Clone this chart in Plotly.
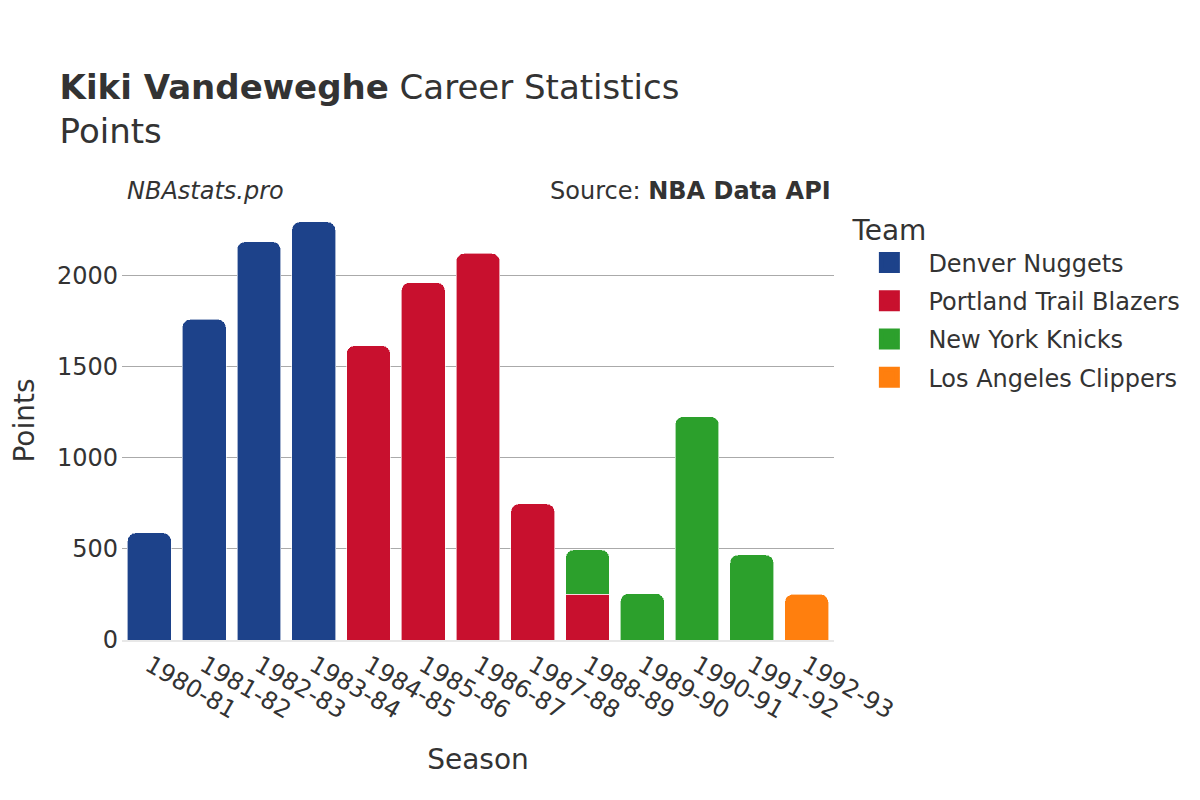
import plotly.graph_objects as go

seasons = ["1980-81", "1981-82", "1982-83", "1983-84", "1984-85", "1985-86", "1986-87",
           "1987-88", "1988-89", "1989-90", "1990-91", "1991-92", "1992-93"]

teams = ["Denver Nuggets", "Portland Trail Blazers", "New York Knicks", "Los Angeles Clippers"]
colors = ["#1d428a", "#c8102e", "#2ca02c", "#ff7f0e"]

denver_seasons = ["1980-81", "1981-82", "1982-83", "1983-84"]
denver_pts = [588, 1760, 2186, 2295]
portland_seasons = ["1984-85", "1985-86", "1986-87", "1987-88", "1988-89"]
portland_pts = [1616, 1962, 2122, 747, 250]
knicks_seasons = ["1988-89", "1989-90", "1990-91", "1991-92"]
knicks_pts = [245, 255, 1226, 467]
clippers_seasons = ["1992-93"]
clippers_pts = [251]

series = [
    (denver_seasons, denver_pts),
    (portland_seasons, portland_pts),
    (knicks_seasons, knicks_pts),
    (clippers_seasons, clippers_pts),
]

fig = go.Figure()
for name, color, (xs, ys) in zip(teams, colors, series):
    fig.add_trace(go.Bar(x=xs, y=ys, name=name, legendgroup=name, showlegend=False,
                         marker=dict(color=color, line=dict(color="rgba(255,255,255,0.6)", width=1))))
# legend entries (larger square swatches)
for name, color in zip(teams, colors):
    fig.add_trace(go.Scatter(x=[None], y=[None], mode="markers", name=name, legendgroup=name,
                             marker=dict(symbol="square", size=16, color=color,
                                         line=dict(color=color, width=5))))

font_family = "DejaVu Sans"
fig.update_layout(
    width=1200, height=800,
    barmode="stack",
    barcornerradius=8,
    bargap=0.2,
    plot_bgcolor="white", paper_bgcolor="white",
    font=dict(family=font_family, color="#333333", size=24),
    title=dict(
        text="<b>Kiki Vandeweghe</b> Career Statistics<br>Points",
        x=0.043, xanchor="left", y=0.886, yanchor="top",
        font=dict(size=34, color="#333333"),
    ),
    margin=dict(l=114, r=374, t=193, b=168),
    xaxis=dict(
        categoryorder="array", categoryarray=seasons,
        tickangle=30, tickfont=dict(size=24),
        title=dict(text="Season", font=dict(size=28), standoff=26),
        showgrid=False, showline=True, linecolor="#e8e8e8", linewidth=2,
        automargin=False,
    ),
    yaxis=dict(
        range=[0, 2410],
        tickvals=[0, 500, 1000, 1500, 2000],
        tickfont=dict(size=24),
        ticks="", ticklabelstandoff=3,
        title=dict(text="Points", font=dict(size=28), standoff=35),
        showgrid=True, gridcolor="#aaaaaa", gridwidth=1,
        zeroline=False, automargin=False,
    ),
    legend=dict(
        title=dict(text="Team", font=dict(size=28)),
        font=dict(size=24),
        traceorder="grouped",
        itemsizing="trace",
        itemwidth=68,
        x=1.023, xanchor="left", y=0.993, yanchor="top",
        tracegroupgap=4,
    ),
    annotations=[
        dict(text="<i>NBAstats.pro</i>", xref="paper", yref="paper", x=0.004, y=1.023,
             xanchor="left", yanchor="middle", showarrow=False, font=dict(size=24, color="#333333")),
        dict(text="Source: <b>NBA Data API</b>", xref="paper", yref="paper", x=0.999, y=1.023,
             xanchor="right", yanchor="middle", showarrow=False, font=dict(size=24, color="#333333")),
    ],
)

fig.write_html("out.html")
